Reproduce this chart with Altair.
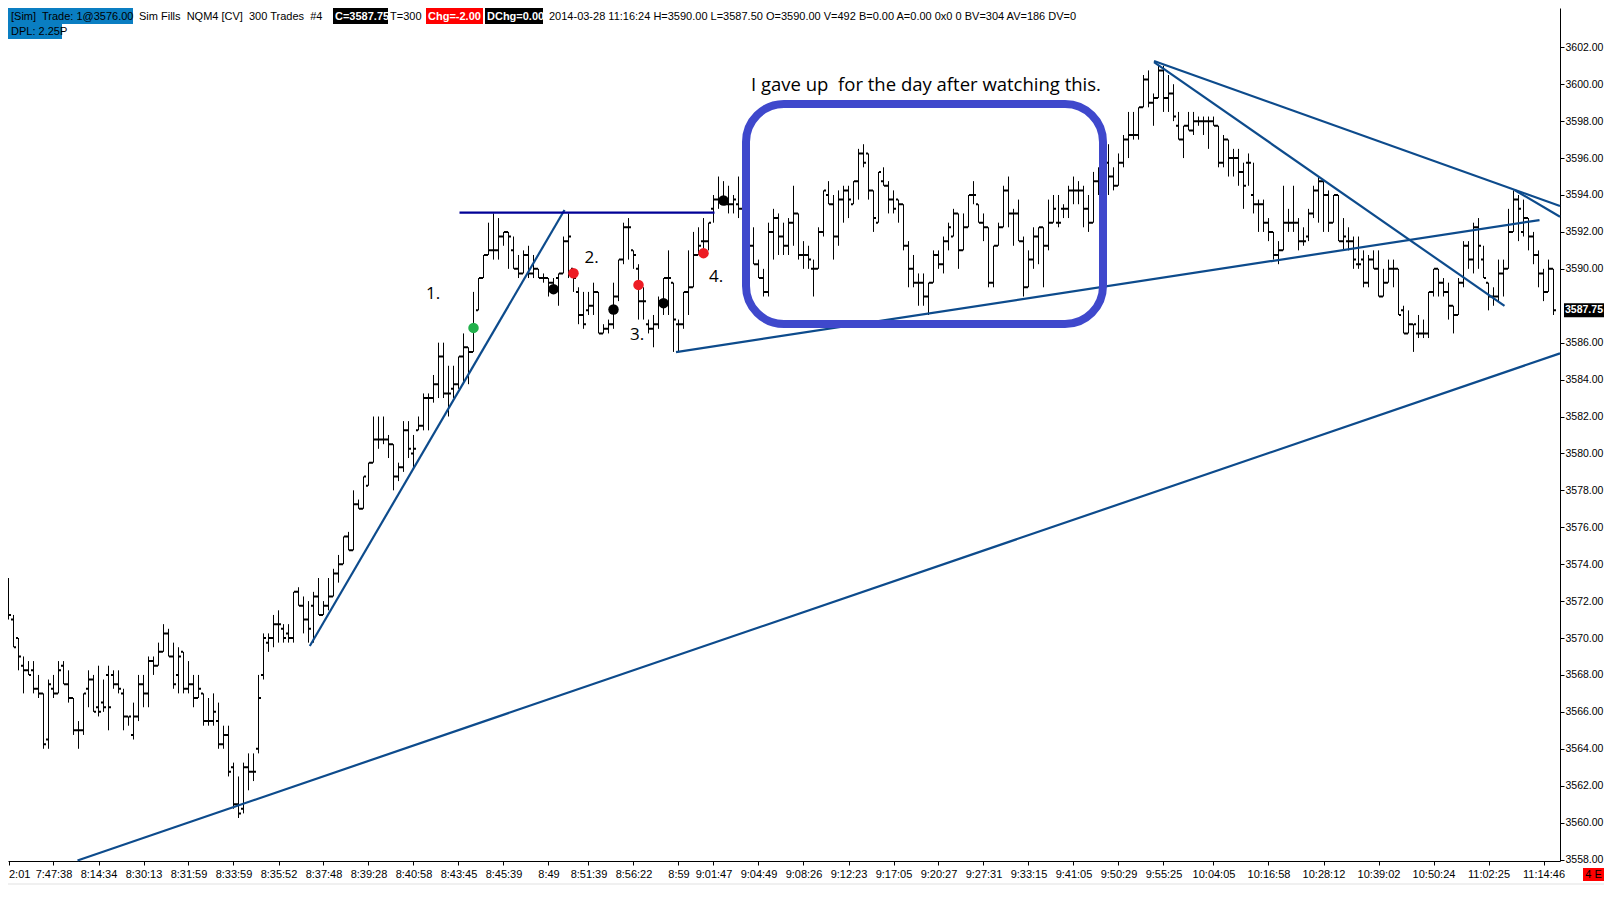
import json
import altair as alt
import pandas as pd

# ---------------- data: one entry per 300-trade bar ----------------
open_ = [
    3572.75, 3571.0, 3570.0, 3568.5, 3568.25, 3568.25, 3567.25, 3567.0, 3564.5, 3567.25,
    3567.0, 3568.5, 3567.5, 3566.75, 3565.0, 3565.0, 3567.25, 3567.75, 3566.25, 3566.5,
    3568.0, 3568.0, 3567.5, 3567.0, 3565.75, 3564.75, 3565.75, 3567.5, 3567.0, 3568.75,
    3568.5, 3569.25, 3570.25, 3569.0, 3568.0, 3569.25, 3567.25, 3567.5, 3566.75, 3567.0,
    3565.5, 3565.5, 3565.5, 3564.25, 3564.75, 3563.0, 3561.0, 3560.75, 3563.0, 3562.75,
    3564.0, 3568.0, 3569.75, 3570.0, 3570.75, 3570.5, 3570.25, 3570.0, 3572.5, 3571.75,
    3571.0, 3571.75, 3572.25, 3571.25, 3571.75, 3572.25, 3573.5, 3574.0, 3575.5, 3574.75,
    3577.25, 3577.0, 3578.25, 3579.5, 3580.75, 3580.75, 3580.75, 3580.5, 3578.75, 3579.25,
    3581.25, 3580.0, 3581.25, 3581.5, 3583.0, 3583.0, 3583.75, 3585.25, 3583.25, 3583.5,
    3583.75, 3585.25, 3585.75, 3585.5, 3587.75, 3589.5, 3590.75, 3591.0, 3591.0, 3591.75,
    3592.0, 3591.0, 3590.0, 3589.75, 3590.75, 3589.75, 3590.0, 3589.5, 3589.5, 3589.25,
    3589.5, 3589.75, 3591.5, 3590.0, 3588.75, 3587.5, 3587.75, 3588.0, 3588.75, 3586.5,
    3586.75, 3587.0, 3588.5, 3590.5, 3592.25, 3591.0, 3590.0, 3588.25, 3587.0, 3586.75,
    3587.0, 3588.25, 3589.5, 3589.25, 3587.0, 3587.0, 3588.75, 3589.0, 3590.75, 3591.5,
    3591.5, 3593.25, 3593.75, 3593.75, 3593.5, 3593.5, 3593.5, 3593.25, 3592.0, 3591.25,
    3590.25, 3589.5, 3588.75, 3592.0, 3592.75, 3591.75, 3591.25, 3592.5, 3593.0, 3590.75,
    3590.75, 3590.0, 3590.0, 3592.0, 3594.0, 3593.5, 3591.75, 3593.75, 3594.25, 3593.5,
    3594.75, 3596.25, 3596.25, 3594.25, 3592.5, 3594.75, 3594.5, 3593.75, 3593.75, 3593.5,
    3591.25, 3590.0, 3589.25, 3589.25, 3588.5, 3589.25, 3590.75, 3590.25, 3591.5, 3591.75,
    3593.0, 3591.0, 3592.25, 3594.0, 3593.5, 3592.5, 3592.25, 3589.25, 3591.25, 3592.25,
    3594.25, 3593.0, 3593.0, 3591.5, 3589.0, 3590.5, 3591.75, 3592.25, 3591.25, 3592.5,
    3592.5, 3593.25, 3593.25, 3594.25, 3594.25, 3594.25, 3593.25, 3592.5, 3594.75, 3595.25,
    3595.75, 3595.0, 3594.5, 3595.75, 3597.0, 3597.25, 3597.25, 3598.75, 3600.25, 3599.0,
    3599.25, 3600.75, 3599.25, 3599.5, 3597.75, 3597.0, 3597.75, 3597.5, 3598.0, 3598.0,
    3598.0, 3598.0, 3597.75, 3595.75, 3597.0, 3596.0, 3596.0, 3595.25, 3595.75, 3594.0,
    3593.5, 3593.5, 3592.5, 3592.0, 3590.75, 3591.0, 3592.5, 3592.5, 3592.5, 3591.5,
    3591.75, 3593.0, 3594.25, 3594.75, 3594.0, 3592.5, 3594.0, 3591.5, 3591.5, 3591.5,
    3590.25, 3590.5, 3589.25, 3590.5, 3590.0, 3588.5, 3589.25, 3590.0, 3590.0, 3587.75,
    3586.5, 3587.0, 3586.5, 3586.5, 3586.5, 3588.75, 3590.0, 3589.25, 3588.75, 3588.0,
    3587.5, 3589.25, 3591.25, 3590.5, 3592.25, 3590.5, 3589.25, 3588.5, 3588.5, 3589.75,
    3590.0, 3592.0, 3593.75, 3592.0, 3592.75, 3591.75, 3590.75, 3589.75, 3588.75, 3590.0,
]
high = [
    3573.25, 3571.25, 3570.0, 3569.0, 3568.75, 3568.75, 3568.0, 3567.0, 3567.75, 3568.0,
    3568.75, 3568.75, 3568.25, 3566.75, 3565.5, 3567.0, 3568.25, 3568.0, 3568.5, 3567.75,
    3568.5, 3568.25, 3568.25, 3567.25, 3565.75, 3566.5, 3568.0, 3568.0, 3569.0, 3569.0,
    3569.75, 3570.75, 3570.5, 3569.75, 3569.5, 3569.25, 3568.75, 3568.0, 3568.0, 3567.0,
    3566.75, 3567.0, 3566.5, 3565.25, 3565.25, 3563.25, 3562.5, 3563.25, 3563.75, 3563.75,
    3568.0, 3570.25, 3570.25, 3571.25, 3571.5, 3570.75, 3570.75, 3572.5, 3572.75, 3572.25,
    3572.0, 3572.5, 3573.25, 3572.0, 3573.25, 3573.75, 3574.5, 3575.5, 3575.75, 3578.0,
    3577.5, 3578.75, 3579.5, 3582.0, 3582.0, 3582.0, 3581.0, 3580.5, 3579.5, 3581.75,
    3581.75, 3581.0, 3582.0, 3583.25, 3583.25, 3584.25, 3586.0, 3586.0, 3584.75, 3584.75,
    3585.25, 3586.5, 3585.75, 3588.75, 3589.5, 3590.75, 3592.5, 3593.0, 3592.75, 3592.0,
    3592.0, 3591.75, 3590.75, 3591.0, 3591.25, 3590.75, 3590.0, 3589.75, 3589.5, 3589.5,
    3589.75, 3591.75, 3593.0, 3590.0, 3589.0, 3588.75, 3588.75, 3589.25, 3588.75, 3587.0,
    3587.25, 3589.25, 3590.5, 3592.5, 3592.75, 3591.0, 3590.25, 3589.0, 3587.25, 3587.5,
    3588.5, 3589.5, 3591.0, 3589.25, 3587.25, 3588.75, 3591.0, 3592.0, 3592.25, 3592.75,
    3592.5, 3594.0, 3595.0, 3594.75, 3594.5, 3594.0, 3595.0, 3594.5, 3593.0, 3592.25,
    3590.5, 3590.0, 3592.5, 3593.25, 3593.0, 3592.5, 3592.75, 3594.5, 3593.0, 3591.5,
    3591.25, 3590.5, 3592.25, 3594.25, 3594.75, 3594.0, 3594.25, 3594.5, 3594.5, 3594.75,
    3596.5, 3596.75, 3596.25, 3594.25, 3595.25, 3595.5, 3594.75, 3594.25, 3593.75, 3593.5,
    3591.5, 3590.75, 3589.75, 3589.75, 3589.25, 3591.0, 3591.0, 3591.75, 3592.5, 3593.25,
    3593.0, 3593.0, 3594.0, 3594.75, 3593.5, 3593.0, 3592.25, 3591.25, 3592.5, 3594.5,
    3595.0, 3593.25, 3593.75, 3591.75, 3591.0, 3592.25, 3592.25, 3592.25, 3593.75, 3594.0,
    3594.0, 3593.5, 3594.5, 3595.0, 3594.75, 3594.5, 3594.0, 3595.25, 3595.5, 3596.25,
    3596.75, 3595.5, 3596.25, 3597.25, 3598.5, 3598.5, 3598.75, 3600.5, 3600.75, 3599.5,
    3601.0, 3601.0, 3600.5, 3600.0, 3598.5, 3597.75, 3598.5, 3598.5, 3598.25, 3598.25,
    3598.25, 3598.25, 3597.75, 3597.25, 3597.0, 3596.5, 3596.5, 3595.75, 3596.25, 3595.75,
    3593.75, 3593.75, 3592.75, 3592.0, 3591.5, 3594.5, 3593.25, 3594.5, 3592.75, 3592.25,
    3593.25, 3594.5, 3595.0, 3594.75, 3594.25, 3594.0, 3594.0, 3592.75, 3592.25, 3591.75,
    3591.75, 3591.0, 3590.75, 3591.0, 3591.0, 3590.0, 3590.5, 3590.5, 3590.0, 3588.0,
    3587.75, 3587.0, 3587.5, 3587.25, 3588.75, 3590.0, 3590.0, 3589.5, 3589.25, 3588.0,
    3589.5, 3591.5, 3591.5, 3592.5, 3592.75, 3591.25, 3589.25, 3589.0, 3590.5, 3590.5,
    3593.25, 3594.25, 3594.0, 3593.75, 3592.75, 3592.0, 3591.0, 3590.0, 3590.5, 3590.0,
]
low = [
    3571.0, 3569.5, 3568.25, 3567.0, 3568.0, 3567.0, 3566.75, 3564.0, 3564.0, 3566.75,
    3567.0, 3567.5, 3566.5, 3564.75, 3564.0, 3564.75, 3566.25, 3566.0, 3565.75, 3566.0,
    3565.0, 3567.25, 3567.0, 3565.0, 3565.25, 3564.5, 3565.5, 3566.25, 3566.25, 3568.0,
    3568.5, 3569.25, 3569.0, 3567.25, 3567.0, 3567.0, 3567.0, 3566.25, 3566.75, 3565.25,
    3565.25, 3565.25, 3564.0, 3564.0, 3562.5, 3560.75, 3560.25, 3560.5, 3561.75, 3562.25,
    3563.75, 3567.75, 3569.25, 3569.5, 3569.75, 3569.75, 3569.75, 3569.75, 3571.75, 3570.25,
    3569.75, 3569.75, 3571.25, 3571.25, 3571.5, 3572.25, 3573.0, 3574.0, 3574.75, 3574.75,
    3577.0, 3577.0, 3578.25, 3579.5, 3580.25, 3580.5, 3579.75, 3578.0, 3578.5, 3579.0,
    3579.75, 3579.25, 3581.25, 3581.25, 3581.25, 3582.75, 3583.0, 3583.0, 3582.0, 3583.0,
    3583.5, 3583.75, 3583.75, 3585.5, 3587.75, 3589.5, 3590.75, 3590.5, 3590.5, 3591.25,
    3590.0, 3590.0, 3589.5, 3589.75, 3589.5, 3589.5, 3589.5, 3589.25, 3588.5, 3588.75,
    3588.0, 3589.75, 3589.5, 3588.75, 3587.0, 3586.75, 3587.5, 3587.5, 3586.5, 3586.5,
    3586.5, 3586.75, 3588.25, 3590.25, 3590.5, 3590.0, 3587.25, 3587.25, 3586.5, 3585.75,
    3586.75, 3587.5, 3587.5, 3585.5, 3585.5, 3586.75, 3587.5, 3589.0, 3590.75, 3590.75,
    3591.0, 3592.5, 3593.25, 3593.5, 3593.0, 3593.0, 3592.75, 3592.75, 3591.25, 3590.25,
    3589.5, 3588.5, 3588.5, 3590.5, 3590.75, 3590.75, 3590.75, 3591.25, 3590.5, 3590.0,
    3590.0, 3588.5, 3590.0, 3591.75, 3593.5, 3590.5, 3591.25, 3592.5, 3592.75, 3593.5,
    3593.75, 3595.5, 3593.75, 3592.0, 3592.5, 3594.5, 3593.0, 3593.0, 3592.5, 3591.0,
    3589.0, 3589.0, 3588.0, 3588.0, 3587.5, 3589.25, 3590.0, 3589.75, 3591.0, 3591.75,
    3590.0, 3591.0, 3592.25, 3593.5, 3592.5, 3591.5, 3589.0, 3589.0, 3591.25, 3592.25,
    3592.25, 3591.25, 3591.5, 3588.5, 3589.0, 3590.0, 3590.25, 3589.0, 3591.0, 3592.5,
    3592.25, 3592.75, 3592.75, 3593.5, 3593.5, 3592.25, 3592.0, 3592.5, 3594.0, 3594.5,
    3594.0, 3594.25, 3594.5, 3595.5, 3596.0, 3597.0, 3597.0, 3598.75, 3598.75, 3597.75,
    3599.25, 3598.5, 3598.5, 3598.0, 3597.0, 3596.0, 3597.5, 3597.25, 3597.75, 3597.25,
    3596.5, 3597.75, 3595.5, 3595.5, 3595.0, 3595.0, 3594.5, 3593.25, 3594.5, 3593.0,
    3592.0, 3592.0, 3591.5, 3590.5, 3590.25, 3591.0, 3592.0, 3592.0, 3591.0, 3591.25,
    3591.5, 3592.75, 3592.5, 3592.0, 3592.0, 3592.5, 3591.5, 3591.0, 3591.0, 3590.0,
    3590.0, 3589.0, 3589.0, 3590.0, 3588.5, 3588.5, 3589.25, 3589.0, 3587.5, 3586.5,
    3586.5, 3585.5, 3586.25, 3586.25, 3586.25, 3588.5, 3588.5, 3588.5, 3587.25, 3586.5,
    3587.5, 3589.0, 3590.0, 3589.75, 3590.0, 3589.5, 3587.75, 3588.0, 3588.25, 3588.5,
    3590.0, 3592.0, 3591.5, 3591.75, 3591.0, 3590.25, 3589.0, 3588.25, 3588.75, 3587.5,
]
close = [
    3571.25, 3569.5, 3569.0, 3568.25, 3568.0, 3567.25, 3567.0, 3564.25, 3567.5, 3567.0,
    3568.25, 3567.5, 3566.75, 3565.0, 3565.0, 3567.0, 3567.75, 3566.0, 3566.0, 3566.25,
    3566.25, 3567.5, 3567.25, 3565.75, 3565.75, 3565.75, 3567.5, 3567.0, 3568.75, 3568.5,
    3569.25, 3570.25, 3569.0, 3567.5, 3569.0, 3567.25, 3567.5, 3566.75, 3567.25, 3565.5,
    3565.5, 3566.0, 3564.25, 3564.75, 3562.75, 3561.0, 3560.5, 3563.0, 3562.75, 3562.75,
    3566.75, 3570.0, 3570.0, 3570.75, 3570.75, 3570.0, 3570.0, 3572.5, 3571.75, 3571.0,
    3570.5, 3572.25, 3571.25, 3571.75, 3572.25, 3573.5, 3574.0, 3575.5, 3574.75, 3577.25,
    3577.0, 3578.75, 3579.5, 3580.75, 3580.75, 3580.75, 3580.5, 3578.75, 3579.25, 3581.25,
    3580.25, 3580.25, 3581.5, 3583.0, 3583.0, 3583.75, 3585.25, 3583.25, 3583.25, 3583.75,
    3585.25, 3585.75, 3585.5, 3586.75, 3589.5, 3590.75, 3591.0, 3591.0, 3591.75, 3592.0,
    3591.75, 3590.0, 3589.75, 3590.75, 3589.75, 3590.0, 3589.5, 3589.5, 3589.25, 3589.0,
    3589.75, 3591.5, 3591.75, 3589.5, 3587.5, 3587.0, 3588.0, 3588.75, 3586.5, 3586.75,
    3587.0, 3588.5, 3590.5, 3592.25, 3592.25, 3590.75, 3588.25, 3588.25, 3586.75, 3587.0,
    3588.25, 3589.5, 3589.5, 3587.25, 3587.0, 3588.75, 3589.0, 3590.75, 3591.25, 3591.5,
    3592.5, 3593.75, 3593.75, 3593.5, 3593.5, 3593.75, 3593.25, 3592.75, 3591.25, 3590.25,
    3589.5, 3588.75, 3592.0, 3592.75, 3591.75, 3591.25, 3592.5, 3593.0, 3590.75, 3590.75,
    3590.5, 3590.0, 3592.0, 3594.25, 3593.5, 3591.75, 3593.75, 3594.25, 3593.75, 3594.75,
    3596.25, 3595.75, 3594.25, 3592.75, 3595.25, 3594.5, 3593.75, 3593.25, 3593.5, 3591.25,
    3590.0, 3589.25, 3589.25, 3588.5, 3589.25, 3590.75, 3590.25, 3591.5, 3592.25, 3593.0,
    3591.0, 3592.25, 3594.0, 3594.0, 3592.5, 3592.25, 3589.25, 3591.25, 3592.25, 3594.25,
    3593.0, 3593.0, 3591.5, 3589.0, 3590.5, 3591.75, 3592.25, 3591.25, 3592.5, 3593.25,
    3592.5, 3593.25, 3594.25, 3594.25, 3594.25, 3593.25, 3592.5, 3594.75, 3595.25, 3595.75,
    3595.0, 3594.5, 3595.75, 3597.0, 3597.25, 3597.25, 3598.75, 3600.25, 3599.0, 3599.25,
    3600.75, 3599.25, 3599.5, 3598.25, 3597.0, 3597.75, 3597.5, 3598.0, 3598.0, 3598.0,
    3598.0, 3597.75, 3595.75, 3597.0, 3596.0, 3596.0, 3595.25, 3594.5, 3595.75, 3593.5,
    3593.5, 3592.5, 3592.0, 3590.75, 3591.0, 3592.5, 3592.5, 3592.5, 3591.5, 3591.5,
    3593.0, 3594.25, 3594.75, 3594.0, 3592.5, 3594.0, 3591.5, 3591.75, 3591.5, 3590.5,
    3590.25, 3589.25, 3590.5, 3590.0, 3588.5, 3589.25, 3590.0, 3590.0, 3587.5, 3586.5,
    3587.0, 3587.0, 3586.5, 3586.5, 3588.75, 3590.0, 3589.25, 3588.75, 3588.0, 3587.5,
    3589.25, 3591.25, 3590.5, 3592.25, 3591.25, 3589.5, 3588.5, 3588.5, 3589.75, 3590.0,
    3592.0, 3593.75, 3593.25, 3592.75, 3591.75, 3590.75, 3589.75, 3588.75, 3590.0, 3587.75,
]
assert len(open_) == len(high) == len(low) == len(close) == 310

tick_bars = [0, 9, 18, 27, 36, 45, 54, 63, 72, 81, 90, 99, 108, 116, 125, 134, 141,
             150, 159, 168, 177, 186, 195, 204, 213, 222, 231, 241, 252, 263, 274,
             285, 296, 307]
tick_labels = ["2:01", "7:47:38", "8:14:34", "8:30:13", "8:31:59", "8:33:59",
               "8:35:52", "8:37:48", "8:39:28", "8:40:58", "8:43:45", "8:45:39", "8:49",
               "8:51:39", "8:56:22", "8:59", "9:01:47", "9:04:49", "9:08:26", "9:12:23",
               "9:17:05", "9:20:27", "9:27:31", "9:33:15", "9:41:05", "9:50:29", "9:55:25",
               "10:04:05", "10:16:58", "10:28:12", "10:39:02", "10:50:24", "11:02:25",
               "11:14:46"]
# 3588.00 is hidden behind the last-price marker in the original
price_ticks = [3558, 3560, 3562, 3564, 3566, 3568, 3570, 3572, 3574, 3576, 3578, 3580,
               3582, 3584, 3586, 3590, 3592, 3594, 3596, 3598, 3600, 3602]

# hand-drawn trend lines (bar index, price) -> (bar index, price)
trend_k1 = [13.8, 60.26, 133.5, 229.1, 229.1, 301.2]
trend_p1 = [3557.95, 3569.57, 3585.49, 3601.26, 3601.2, 3594.27]
trend_k2 = [310.3, 111.2, 306.2, 310.3, 299.2, 310.3]
trend_p2 = [3585.42, 3593.19, 3592.64, 3593.40, 3587.99, 3592.82]
level_k = [90.2, 141.2]
level_p = [3593.05, 3593.05]

# trade markers
dot_k = [93, 109, 113, 121, 126, 131, 139, 143]
dot_p = [3586.8, 3588.9, 3589.76, 3587.8, 3589.13, 3588.14, 3590.85, 3593.7]
dot_kind = ["entry", "exit", "stop", "exit", "stop", "exit", "stop", "exit"]

note_k = [84.9, 116.6, 125.7, 141.5]
note_p = [3588.64, 3590.61, 3586.39, 3589.56]
note_t = ["1.", "2.", "3.", "4."]

box_k = [147.5, 218.9]
box_p = [3598.93, 3587.01]
box_note = "I gave up\u00a0 for the day after watching this."
box_note_k = 183.5
box_note_p = 3599.96

last_price = 3587.75

# ---------------- frames ----------------
bars = pd.DataFrame({"k": list(range(len(open_))), "open": open_, "high": high,
                     "low": low, "close": close})
trends = pd.DataFrame({"k1": trend_k1, "p1": trend_p1, "k2": trend_k2, "p2": trend_p2})
level = pd.DataFrame({"k1": [level_k[0]], "k2": [level_k[1]],
                      "p1": [level_p[0]], "p2": [level_p[1]]})
dots = pd.DataFrame({"k": dot_k, "p": dot_p, "kind": dot_kind})
notes = pd.DataFrame({"k": note_k, "p": note_p, "t": note_t})
box = pd.DataFrame({"k1": [box_k[0]], "k2": [box_k[1]], "p1": [box_p[0]], "p2": [box_p[1]]})
boxnote = pd.DataFrame({"k": [box_note_k], "p": [box_note_p], "t": [box_note]})
lastp = pd.DataFrame({"p": [last_price], "t": [f"{last_price:.2f}"]})
dummy = pd.DataFrame({"a": [0]})

AXF = "Liberation Sans Narrow, Arial Narrow, Liberation Sans"
HF = "Liberation Sans, Arial"
NF = "Open Sans, Noto Sans"

xs = alt.Scale(domain=[-0.1, 310.3], nice=False, zero=False)
ys = alt.Scale(domain=[3557.92, 3604.13], nice=False, zero=False)

label_expr = f"{json.dumps(tick_labels)}[indexof({json.dumps(tick_bars)}, datum.value)]"
xaxis = alt.Axis(values=tick_bars, labelExpr=label_expr, orient="bottom", title=None,
                 grid=False, tickSize=4, tickColor="black", domainColor="black",
                 domainWidth=1, labelColor="black", labelFont=AXF, labelFontSize=11,
                 labelPadding=3, labelOverlap=False, labelBound=False, labelFlush=False,
                 labelAlign={"condition": {"test": "datum.value == 0", "value": "left"},
                             "value": "center"})
yaxis = alt.Axis(values=price_ticks, format=".2f", orient="right", title=None, grid=False,
                 tickSize=4, tickColor="black", domainColor="black", domainWidth=1,
                 labelColor="black", labelFont=AXF, labelFontSize=10.5, labelPadding=1,
                 labelOverlap=False, labelBound=False, labelFlush=False)


def X(f):
    return alt.X(f, scale=xs, axis=xaxis)


def Y(f):
    return alt.Y(f, scale=ys, axis=yaxis)


hl = alt.Chart(bars).mark_rule(color="black", strokeWidth=1).encode(
    x=X("k:Q"), y=Y("low:Q"), y2="high:Q")
op = alt.Chart(bars).mark_rule(color="black", strokeWidth=2, xOffset=-2.5, x2Offset=-0.5).encode(
    x=X("k:Q"), x2="k:Q", y=Y("open:Q"))
cl = alt.Chart(bars).mark_rule(color="black", strokeWidth=2, xOffset=0.5, x2Offset=2.5).encode(
    x=X("k:Q"), x2="k:Q", y=Y("close:Q"))
trend = alt.Chart(trends).mark_rule(strokeWidth=2.2, color="#0d4b8c").encode(
    x=X("k1:Q"), x2="k2:Q", y=Y("p1:Q"), y2="p2:Q")
lvl = alt.Chart(level).mark_rule(strokeWidth=2.2, color="#000096").encode(
    x=X("k1:Q"), x2="k2:Q", y=Y("p1:Q"), y2="p2:Q")
rbox = alt.Chart(box).mark_rect(cornerRadius=38, stroke="#3f48cc", strokeWidth=8,
                                fillOpacity=0, fill="white").encode(
    x=X("k1:Q"), x2="k2:Q", y=Y("p1:Q"), y2="p2:Q")
pts = alt.Chart(dots).mark_circle(size=110, opacity=1).encode(
    x=X("k:Q"), y=Y("p:Q"),
    color=alt.Color("kind:N", scale=alt.Scale(domain=["entry", "stop", "exit"],
                                              range=["#22b14c", "#ed1c24", "#000000"]),
                    legend=None),
)
ntxt = alt.Chart(notes).mark_text(font=NF, fontSize=17, color="black", align="center",
                                  baseline="middle").encode(
    x=X("k:Q"), y=Y("p:Q"), text="t:N")
btxt = alt.Chart(boxnote).mark_text(font=NF, fontSize=18.5, color="black", align="center",
                                    baseline="middle").encode(
    x=X("k:Q"), y=Y("p:Q"), text="t:N")

# last-price marker on the price axis
lp_box = alt.Chart(lastp).mark_rule(color="black", strokeWidth=14).encode(
    x=alt.value(1556), x2=alt.value(1596), y=Y("p:Q"))
lp_txt = alt.Chart(lastp).mark_text(font=AXF, fontSize=10.5, fontWeight="bold", color="white",
                                    align="center", baseline="middle").encode(
    x=alt.value(1576), y=Y("p:Q"), text="t:N")


def rect(x1, x2, y1, y2, color):
    return alt.Chart(dummy).mark_rect(color=color).encode(
        x=alt.value(x1), x2=alt.value(x2), y=alt.value(y1), y2=alt.value(y2))


def label(x, y, s, color="black", bold=False, size=11, font=HF, align="left"):
    return alt.Chart(dummy).mark_text(font=font, fontSize=size, color=color, align=align,
                                      baseline="middle",
                                      fontWeight="bold" if bold else "normal").encode(
        x=alt.value(x), y=alt.value(y), text=alt.value(s))


header = [
    rect(0, 125, 0, 16, "#0a7ec2"),
    rect(0, 54, 16, 31, "#0a7ec2"),
    rect(325, 380, 0, 16, "black"),
    rect(418, 475, 0, 16, "#ff0000"),
    rect(477, 535, 0, 16, "black"),
    label(3, 8.5, "[Sim]\u00a0 Trade: 1@3576.00"),
    label(3, 23.5, "DPL: 2.25P"),
    label(131, 8.5, "Sim Fills\u00a0 NQM4 [CV]\u00a0 300 Trades\u00a0 #4"),
    label(327, 8.5, "C=3587.75", color="white", bold=True),
    label(382, 8.5, "T=300"),
    label(420, 8.5, "Chg=-2.00", color="white", bold=True),
    label(479, 8.5, "DChg=0.00", color="white", bold=True),
    label(541, 8.5, "2014-03-28 11:16:24 H=3590.00 L=3587.50 O=3590.00 V=492 B=0.00 "
                    "A=0.00 0x0 0 BV=304 AV=186 DV=0"),
]
footer = [
    rect(0, 1596, 875, 877, "#f0f0f0"),
    rect(1575, 1596, 860, 873, "#ff0000"),
    label(1585.5, 866.5, "4 E", font=AXF, size=11, align="center"),
]

chart = alt.layer(hl, op, cl, trend, lvl, rbox, pts, ntxt, btxt, lp_box, lp_txt,
                  *header, *footer).properties(
    width=1552, height=853,
    autosize=alt.AutoSizeParams(type="none"),
    padding={"left": 0, "top": 0, "right": 44, "bottom": 24},
    background="white",
).configure_view(stroke=None)

chart.save("out.html", embed_options={"renderer": "svg", "actions": False})
